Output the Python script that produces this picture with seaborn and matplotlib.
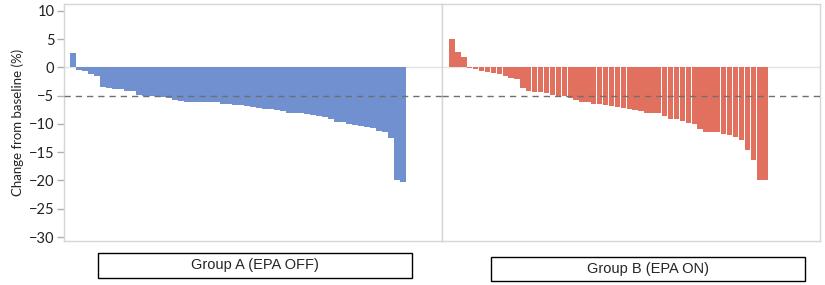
import numpy as np
import pandas as pd
import seaborn as sns
import matplotlib.pyplot as plt
from matplotlib.patches import Rectangle

# percent change from baseline, one bar per patient (sorted)
group_a = [2.6, -0.5, -0.7, -1.2, -1.5, -3.5, -3.6, -3.8, -3.8, -4.2, -4.2, -4.9, -5.0, -5.0,
           -5.1, -5.3, -5.5, -5.7, -6.0, -6.1, -6.1, -6.1, -6.1, -6.2, -6.2, -6.4, -6.4, -6.6,
           -6.7, -6.9, -7.0, -7.1, -7.3, -7.3, -7.6, -7.8, -8.0, -8.0, -8.1, -8.3, -8.5, -8.6,
           -8.8, -9.1, -9.6, -9.7, -10.0, -10.2, -10.3, -10.6, -10.8, -11.2, -11.4, -12.5,
           -20.0, -20.2]
group_b = [5.1, 2.7, 1.9, -0.1, -0.35, -0.6, -0.8, -1.0, -1.2, -1.5, -1.8, -2.1, -3.7, -4.2,
           -4.4, -4.4, -4.5, -4.9, -5.0, -5.1, -5.4, -5.7, -6.1, -6.1, -6.5, -6.5, -6.7, -6.9,
           -7.0, -7.2, -7.3, -7.6, -7.8, -8.0, -8.0, -8.0, -8.6, -9.1, -9.1, -9.4, -9.9, -10.1,
           -10.9, -11.4, -11.4, -11.4, -11.7, -12.0, -12.4, -12.9, -14.7, -16.3, -19.9, -19.9]
group_labels = ['Group A (EPA OFF)', 'Group B (EPA ON)']
yticks = [10, 5, 0, -5, -10, -15, -20, -25, -30]
threshold = -5

sns.set_style('white')
plt.rcParams['font.family'] = ['Lato', 'DejaVu Sans']

W, H = 825, 285
fig = plt.figure(figsize=(W / 100, H / 100), dpi=100)
ax_a = fig.add_axes([64 / W, 1 - 241 / H, 378 / W, 237 / H])
ax_b = fig.add_axes([442 / W, 1 - 241 / H, 378 / W, 237 / H])

panels = [
    (ax_a, group_a, '#7090cf', (-1.5, 61.5)),
    (ax_b, group_b, '#e2705f', (-1.7, 62.3)),
]
for ax, vals, col, xlim in panels:
    df = pd.DataFrame({'patient': range(len(vals)), 'change': vals})
    ax.axhline(0, color='#e4e4e4', lw=1, zorder=0)
    sns.barplot(data=df, x='patient', y='change', color=col, saturation=1,
                width=0.9, linewidth=0, errorbar=None, ax=ax, zorder=2)
    ax.axhline(threshold, color='#707070', lw=1, dashes=(4.5, 3.6), zorder=3)
    ax.set_xlim(*xlim)
    ax.set_ylim(-30.7, 11.2)
    ax.set_xlabel('')
    ax.set_ylabel('')
    ax.set_xticks([])
    for s in ax.spines.values():
        s.set_color('#d6d6d6')
        s.set_linewidth(1)

ax_a.set_yticks(yticks)
ax_a.tick_params(axis='y', left=True, length=5, width=1, color='#b0b0b0',
                 labelsize=10.5, pad=2, labelcolor='#222222')
ax_a.set_ylabel('Change from baseline (%)', fontsize=9.5, labelpad=3, color='#222222')
ax_b.set_yticks([])

# group label boxes under the panels
boxes = [(98, 253, 314, 25), (491, 257, 314, 24)]
for (x0, y0, bw, bh), lab in zip(boxes, group_labels):
    fig.add_artist(Rectangle((x0 / W, 1 - (y0 + bh) / H), bw / W, bh / H,
                             transform=fig.transFigure, fill=False,
                             edgecolor='black', lw=1))
    fig.text((x0 + bw / 2) / W, 1 - (y0 + bh / 2) / H, lab, ha='center', va='center',
             fontsize=10.5, family=['Liberation Sans', 'DejaVu Sans'])

fig.savefig('out.png', dpi=100)
